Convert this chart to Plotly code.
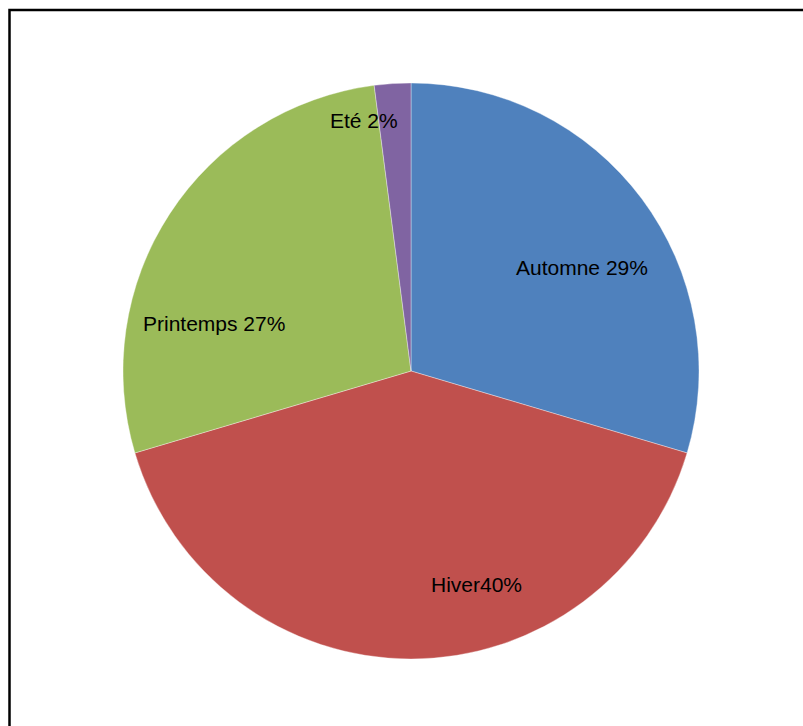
import plotly.graph_objects as go

# Seasonal breakdown
saisons = ["Automne", "Hiver", "Printemps", "Eté"]
parts = [29, 40, 27, 2]
etiquettes = ["Automne 29%", "Hiver40%", "Printemps 27%", "Eté 2%"]
couleurs = ["#4F81BD", "#C0504D", "#9BBB59", "#8064A2"]

W, H = 803, 726
cx, cy, r = 411, 371, 288

# Label anchor points (pixels from top-left of the page)
pos_etiquettes = [(582, 268), (476, 584), (214, 323), (364, 121)]

fig = go.Figure(
    go.Pie(
        labels=saisons,
        values=parts,
        textinfo="none",
        marker=dict(colors=couleurs, line=dict(width=0.6, color="rgba(255,255,255,0.6)")),
        sort=False,
        direction="clockwise",
        rotation=0,
        hoverinfo="label+percent",
        domain=dict(
            x=[(cx - r) / W, (cx + r) / W],
            y=[(H - cy - r) / H, (H - cy + r) / H],
        ),
    )
)

for txt, (px, py) in zip(etiquettes, pos_etiquettes):
    fig.add_annotation(
        x=px / W,
        y=1 - py / H,
        xref="paper",
        yref="paper",
        text=txt,
        showarrow=False,
        xanchor="center",
        yanchor="middle",
        font=dict(family="Liberation Sans, Arial", size=21, color="black"),
    )

fig.update_layout(
    width=W,
    height=H,
    margin=dict(l=0, r=0, t=0, b=0),
    paper_bgcolor="white",
    showlegend=False,
    shapes=[
        dict(
            type="rect",
            xref="paper",
            yref="paper",
            x0=9.5 / W,
            x1=1.02,
            y0=-0.02,
            y1=1 - 10 / H,
            line=dict(color="black", width=2.5),
            fillcolor="rgba(0,0,0,0)",
            layer="above",
        )
    ],
)

fig.write_html("out.html")
